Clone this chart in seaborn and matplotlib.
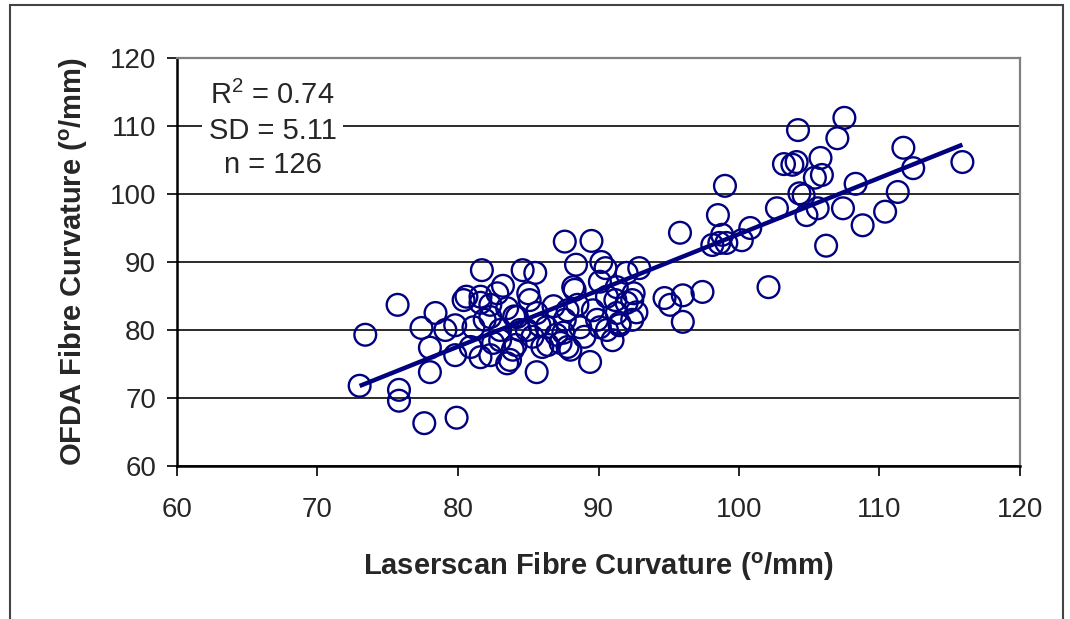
import numpy as np
import pandas as pd
import matplotlib
matplotlib.use("Agg")
import matplotlib.pyplot as plt
import seaborn as sns
from matplotlib.patches import Rectangle

laserscan = [
    73.0, 73.4, 75.7, 75.8, 75.8, 77.6, 79.9, 77.4, 78.0, 78.4, 78.0, 79.1, 79.8, 79.8,
    80.4, 81.6, 81.7, 81.9, 82.3, 82.8, 82.3, 83.0, 83.7, 84.1, 84.4, 84.6, 85.1, 85.5,
    85.6, 85.8, 86.4, 87.0, 87.6, 87.6, 88.0, 88.3, 88.4, 88.5, 89.4, 89.5, 89.9, 90.2,
    90.5, 90.6, 91.2, 91.5, 92.0, 92.4, 92.4, 92.9, 94.7, 95.1, 95.8, 96.0, 96.0, 97.4,
    98.1, 98.5, 98.8, 98.6, 99.0, 100.2, 100.8, 102.1, 102.7, 103.2, 103.8, 104.1, 104.2,
    104.3, 104.6, 104.8, 105.4, 105.8, 105.9, 105.6, 106.2, 107.0, 107.5, 107.4, 108.3,
    108.8, 110.4, 111.3, 111.7, 112.4, 115.9,
    80.6, 81.6, 83.5, 82.3, 84.2, 85.6, 81.1, 83.0, 84.9, 86.3, 80.9, 82.5, 83.9, 86.0,
    81.6, 83.5, 87.3, 85.0, 88.2, 90.1, 91.3, 92.5, 90.6, 92.0, 87.8, 89.6, 91.3, 92.7,
    88.7, 90.1, 91.5, 87.5, 87.8, 99.1, 84.0, 85.3, 86.8, 89.0, 83.2, 91.0,
]
ofda = [
    71.8, 79.3, 83.7, 71.2, 69.6, 66.3, 67.1, 80.3, 73.8, 82.5, 77.4, 80.0, 80.7, 76.3,
    84.4, 84.9, 88.8, 81.5, 83.7, 85.4, 76.3, 78.5, 75.6, 77.8, 80.0, 88.8, 84.4, 88.4,
    73.8, 80.7, 77.8, 79.3, 93.0, 81.5, 77.1, 85.9, 89.6, 83.7, 75.3, 93.1, 81.5, 90.0,
    89.1, 80.0, 84.4, 80.7, 88.4, 84.4, 81.5, 89.1, 84.7, 83.7, 94.3, 85.1, 81.2, 85.6,
    92.5, 96.9, 94.0, 92.8, 101.2, 93.2, 95.0, 86.3, 97.9, 104.4, 104.3, 104.7, 109.4,
    100.1, 99.8, 96.9, 102.4, 105.3, 102.8, 97.9, 92.4, 108.2, 111.2, 97.9, 101.5,
    95.4, 97.4, 100.3, 106.8, 103.8, 104.7,
    84.9, 84.0, 83.2, 81.9, 81.9, 82.5, 80.4, 80.0, 80.0, 80.4, 77.5, 78.1, 77.1, 77.5,
    76.0, 75.1, 78.1, 85.4, 86.3, 87.1, 86.3, 85.4, 84.9, 84.0, 82.9, 82.9, 82.5, 82.6,
    80.4, 80.4, 81.0, 79.6, 77.5, 92.8, 82.0, 79.0, 83.5, 79.0, 86.5, 78.5,
]
fit_slope = 0.827
fit_intercept = 11.4
x_ticks = [60, 70, 80, 90, 100, 110, 120]
y_ticks = [60, 70, 80, 90, 100, 110, 120]
stats_text = "R$^{2}$ = 0.74\nSD = 5.11\nn = 126"

df = pd.DataFrame({"Laserscan": laserscan, "OFDA": ofda})

sns.set_theme(style="white")
plt.rcParams["font.family"] = ["Liberation Sans", "DejaVu Sans"]
plt.rcParams["mathtext.fontset"] = "custom"
plt.rcParams["mathtext.rm"] = "Liberation Sans"
plt.rcParams["mathtext.bf"] = "Liberation Sans:bold"
plt.rcParams["mathtext.it"] = "Liberation Sans"

fig = plt.figure(figsize=(10.7, 6.19), dpi=100)
ax = fig.add_axes([177 / 1070, 1 - 466 / 619, (1020 - 177) / 1070, (466 - 58) / 619])

navy = "#000080"
sns.scatterplot(data=df, x="Laserscan", y="OFDA", ax=ax, s=245, marker="o",
                facecolors="none", edgecolor=navy, linewidth=1.7, zorder=3)

xs = np.array([min(laserscan), max(laserscan)])
ax.plot(xs, fit_intercept + fit_slope * xs, color=navy, lw=3.2, zorder=4,
        solid_capstyle="butt")

ax.set_xlim(60, 120)
ax.set_ylim(60, 120)
ax.set_xticks(x_ticks)
ax.set_yticks(y_ticks)
ax.set_xticklabels([str(t) for t in x_ticks], fontsize=20)
ax.set_yticklabels([str(t) for t in y_ticks], fontsize=20)
ax.tick_params(axis="both", direction="out", length=7, width=1.2, color="black",
               bottom=True, left=True)
ax.tick_params(axis="y", pad=8)
ax.tick_params(axis="x", pad=15)

ax.yaxis.grid(True, color="#1a1a1a", lw=1.3, zorder=1)
ax.xaxis.grid(False)
ax.set_axisbelow(True)

for side in ["left", "bottom"]:
    ax.spines[side].set_color("black")
    ax.spines[side].set_linewidth(1.8)
for side in ["top", "right"]:
    ax.spines[side].set_visible(True)
    ax.spines[side].set_color("#808080")
    ax.spines[side].set_linewidth(1.6)

ax.set_xlabel("Laserscan Fibre Curvature ($^{\\mathbf{o}}$/mm)", fontsize=21,
              fontweight="bold", labelpad=20)
ax.set_ylabel("OFDA Fibre Curvature ($^{\\mathbf{o}}$/mm)", fontsize=21,
              fontweight="bold", labelpad=14)

ax.text(66.8, 109.4, stats_text, ha="center", va="center", fontsize=21,
        linespacing=1.3, zorder=5,
        bbox=dict(facecolor="white", edgecolor="none", pad=5))

fig.patches.append(Rectangle((10 / 1070, -0.05), (1063 - 10) / 1070, 1.05 - 5 / 619,
                             transform=fig.transFigure, fill=False,
                             edgecolor="#444444", lw=1.5))

fig.savefig("out.png", dpi=100)
